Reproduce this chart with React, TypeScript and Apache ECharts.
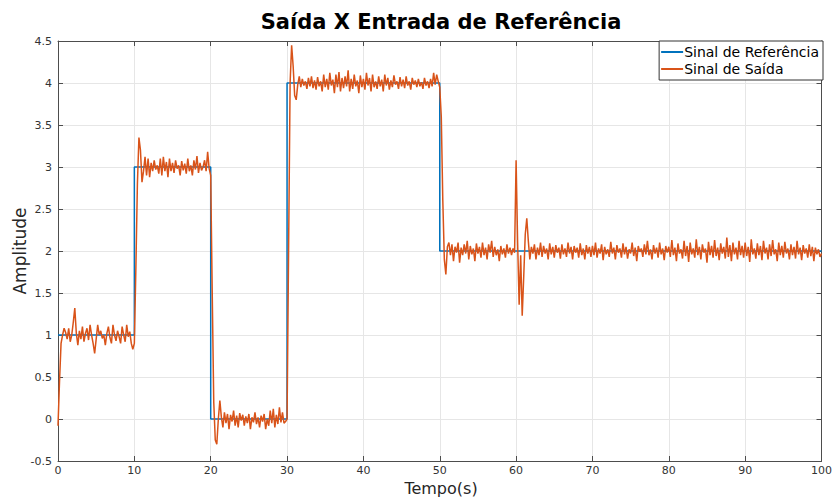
import React, { useEffect, useRef } from "react";
import * as echarts from "echarts";

const titleText = "Saída X Entrada de Referência";
const xName = "Tempo(s)";
const yName = "Amplitude";
const legendNames = ["Sinal de Referência", "Sinal de Saída"];

const xTicks = { min: 0, max: 100, interval: 10 };
const yTicks = { min: -0.5, max: 4.5, interval: 0.5 };

// Reference step input: [time, value]
const refTimes = [0, 10, 10, 20, 20, 30, 30, 50, 50, 100];
const refValues = [1, 1, 3, 3, 0, 0, 4, 4, 2, 2];

const sampleStep = 0.2;
const out0to10 = [-0.08, 0.45, 0.9, 1.0, 1.08, 1.03, 0.95, 1.08, 0.92, 1.0, 1.15, 1.32, 1.02, 0.88, 1.05, 0.95, 1.1, 0.92, 1.02, 1.08, 0.94, 1.12, 1.0, 0.9, 0.78, 0.95, 1.12, 1.0, 1.05, 0.96, 1.0, 0.88, 1.02, 1.1, 0.97, 0.9, 1.12, 1.0, 0.93, 1.05, 0.98, 0.9, 1.1, 1.0, 0.92, 1.12, 0.98, 1.04, 0.9, 0.83];
const out10to20 = [0.9, 1.8, 2.8, 3.35, 3.2, 2.82, 2.95, 3.12, 2.9, 3.1, 2.88, 3.05, 2.95, 3.08, 2.97, 3.02, 2.92, 3.1, 2.9, 3.12, 2.95, 3.06, 2.88, 3.1, 2.95, 3.05, 2.93, 3.08, 2.98, 3.02, 2.9, 3.07, 2.96, 3.04, 2.92, 3.1, 2.95, 3.02, 2.9, 3.08, 2.97, 3.13, 2.93, 3.05, 2.96, 3.0, 3.08, 2.95, 3.18, 2.98];
const out20to30 = [2.9, 1.5, 0.2, -0.25, -0.3, 0.0, 0.22, 0.02, -0.1, 0.08, -0.05, 0.06, -0.12, 0.05, -0.03, 0.1, -0.08, 0.04, -0.1, 0.07, -0.02, 0.05, -0.08, 0.03, -0.05, 0.06, -0.12, 0.02, -0.04, 0.08, -0.06, 0.02, -0.1, 0.04, -0.03, 0.06, -0.12, 0.0, -0.08, 0.1, -0.05, 0.12, -0.1, 0.05, -0.06, 0.14, -0.04, 0.08, -0.05, -0.03];
const out30to40 = [0.0, 2.0, 4.0, 4.45, 4.2, 3.85, 3.8, 3.98, 4.08, 3.95, 4.05, 3.97, 4.02, 3.93, 4.06, 3.96, 4.08, 3.94, 4.03, 3.92, 4.07, 3.96, 4.02, 3.9, 4.1, 3.95, 4.05, 3.92, 4.12, 3.97, 4.04, 3.88, 4.1, 3.95, 4.13, 3.9, 4.06, 3.94, 4.08, 3.96, 4.15, 3.9, 4.05, 3.93, 4.1, 3.96, 4.03, 3.88, 4.09, 3.95];
const out40to50 = [4.05, 3.92, 4.12, 3.97, 4.06, 3.9, 4.1, 3.95, 4.02, 3.93, 4.08, 3.96, 4.04, 3.9, 4.1, 3.97, 4.06, 3.92, 4.03, 3.95, 4.09, 3.98, 4.02, 3.93, 4.07, 3.96, 4.04, 3.94, 4.08, 3.97, 4.02, 3.92, 4.06, 3.98, 4.03, 3.95, 4.05, 3.96, 4.01, 3.93, 4.06, 3.97, 4.02, 3.94, 4.05, 3.96, 4.12, 3.98, 4.1, 4.02];
const out50to60 = [3.95, 3.6, 2.6, 1.9, 1.72, 2.05, 2.1, 1.95, 2.08, 1.88, 2.05, 1.98, 2.1, 1.86, 2.04, 1.95, 2.08, 1.97, 2.12, 1.9, 2.06, 1.96, 2.03, 1.88, 2.09, 1.97, 2.05, 1.92, 2.1, 1.95, 2.04, 1.9, 2.08, 1.98, 2.12, 1.93, 2.05, 1.95, 2.02, 1.88, 2.06, 1.96, 2.03, 1.92, 2.08, 1.97, 2.04, 1.95, 2.03, 1.98];
const out60to70 = [3.08, 2.1, 1.36, 1.95, 1.23, 1.7, 2.2, 2.39, 2.12, 1.9, 2.05, 1.97, 2.08, 1.9, 2.04, 1.95, 2.1, 1.93, 2.06, 1.97, 2.03, 1.9, 2.09, 1.96, 2.05, 1.92, 2.07, 1.98, 2.04, 1.91, 2.08, 1.96, 2.03, 1.93, 2.1, 1.97, 2.05, 1.9, 2.06, 1.98, 2.04, 1.92, 2.09, 1.95, 2.03, 1.9, 2.07, 1.97, 2.05, 1.93];
const out70to80 = [2.06, 1.95, 2.1, 1.92, 2.03, 1.97, 2.08, 1.89, 2.05, 1.96, 2.02, 1.93, 2.11, 1.97, 2.04, 1.9, 2.07, 1.98, 2.03, 1.92, 2.09, 1.96, 2.05, 1.91, 2.02, 1.97, 2.1, 1.94, 2.04, 1.88, 2.06, 1.99, 2.03, 1.93, 2.08, 1.96, 2.12, 1.95, 2.02, 1.9, 2.07, 1.97, 2.04, 1.92, 2.1, 1.96, 2.03, 1.89, 2.06, 1.98];
const out80to90 = [2.05, 1.93, 2.13, 1.95, 2.04, 1.88, 2.09, 1.97, 2.02, 1.91, 2.12, 1.94, 2.06, 1.87, 2.1, 1.96, 2.03, 1.92, 2.14, 1.95, 2.05, 1.9, 2.08, 1.98, 2.03, 1.86, 2.11, 1.95, 2.06, 1.92, 2.13, 1.94, 2.04, 1.89, 2.09, 1.97, 2.05, 1.91, 2.16, 1.93, 2.07, 1.88, 2.1, 1.96, 2.04, 1.9, 2.12, 1.95, 2.06, 1.92];
const out90to100 = [2.1, 1.94, 2.05, 1.87, 2.14, 1.96, 2.03, 1.91, 2.09, 1.95, 2.06, 1.89, 2.12, 1.97, 2.04, 1.9, 2.08, 1.94, 2.13, 1.96, 2.02, 1.88, 2.1, 1.95, 2.06, 1.92, 2.11, 1.97, 2.03, 1.9, 2.08, 1.95, 2.05, 1.91, 2.12, 1.96, 2.04, 1.89, 2.07, 1.97, 2.03, 1.92, 2.08, 1.94, 2.05, 1.88, 2.04, 1.96, 2.02, 1.93, 1.97];

const outValues = [
  ...out0to10, ...out10to20, ...out20to30, ...out30to40, ...out40to50,
  ...out50to60, ...out60to70, ...out70to80, ...out80to90, ...out90to100,
];

const FONT = "DejaVu Sans";
const AXIS_COLOR = "#4d4d4d";
const LABEL_COLOR = "#333333";

export default function App() {
  const ref = useRef<HTMLDivElement>(null);
  useEffect(() => {
    if (!ref.current) return;
    const chart = echarts.init(ref.current, null, { renderer: "svg" });
    const refData = refTimes.map((t, i) => [t, refValues[i]]);
    const outData = outValues.map((v, i) => [+(i * sampleStep).toFixed(1), v]);
    const axisCommon = {
      axisLine: { show: true, onZero: false, lineStyle: { color: AXIS_COLOR, width: 1 } },
      axisTick: { show: true, inside: true, length: 5, lineStyle: { color: AXIS_COLOR } },
    };
    chart.setOption({
      animation: false,
      backgroundColor: "#ffffff",
      grid: { left: 58, right: 6, top: 41, bottom: 36, containLabel: false },
      graphic: [
        { type: "text", x: 441, y: 22, style: { text: titleText, font: `bold 21px "${FONT}"`, fill: "#000", textAlign: "center", textVerticalAlign: "middle" } },
        { type: "text", x: 441, y: 488, style: { text: xName, font: `16px "${FONT}"`, fill: "#262626", textAlign: "center", textVerticalAlign: "middle" } },
        { type: "text", x: 20, y: 251, rotation: Math.PI / 2, style: { text: yName, font: `17px "${FONT}"`, fill: "#262626", textAlign: "center", textVerticalAlign: "middle" } },
      ],
      legend: {
        orient: "vertical",
        right: 12,
        top: 41,
        itemWidth: 22,
        itemHeight: 2,
        itemGap: 3,
        padding: [4, 4, 4, 2],
        borderColor: "#333",
        borderWidth: 1,
        backgroundColor: "#fff",
        textStyle: { fontFamily: FONT, fontSize: 14, color: "#000", padding: [0, 0, 0, -4] },
        data: [
          { name: legendNames[0], icon: "rect" },
          { name: legendNames[1], icon: "rect" },
        ],
      },
      xAxis: [
        {
          type: "value", position: "bottom", ...xTicks, ...axisCommon,
          axisLabel: { color: LABEL_COLOR, fontFamily: FONT, fontSize: 11, margin: 4 },
          splitLine: { show: true, lineStyle: { color: "#e6e6e6" } },
        },
        {
          type: "value", position: "top", ...xTicks, ...axisCommon,
          axisLabel: { show: false }, splitLine: { show: false },
        },
      ],
      yAxis: [
        {
          type: "value", position: "left", ...yTicks, ...axisCommon,
          axisLabel: { color: LABEL_COLOR, fontFamily: FONT, fontSize: 11, margin: 6 },
          splitLine: { show: true, lineStyle: { color: "#e6e6e6" } },
        },
        {
          type: "value", position: "right", ...yTicks, ...axisCommon,
          axisLabel: { show: false }, splitLine: { show: false },
        },
      ],
      series: [
        {
          name: legendNames[0], type: "line", data: refData, showSymbol: false,
          lineStyle: { color: "#0072BD", width: 1.5 }, itemStyle: { color: "#0072BD" },
        },
        {
          name: legendNames[1], type: "line", data: outData, showSymbol: false,
          lineStyle: { color: "#D95319", width: 1.5 }, itemStyle: { color: "#D95319" },
        },
      ],
    });
    return () => chart.dispose();
  }, []);
  return <div ref={ref} style={{ width: 835, height: 497, position: "absolute", left: 0, top: 0 }} />;
}
